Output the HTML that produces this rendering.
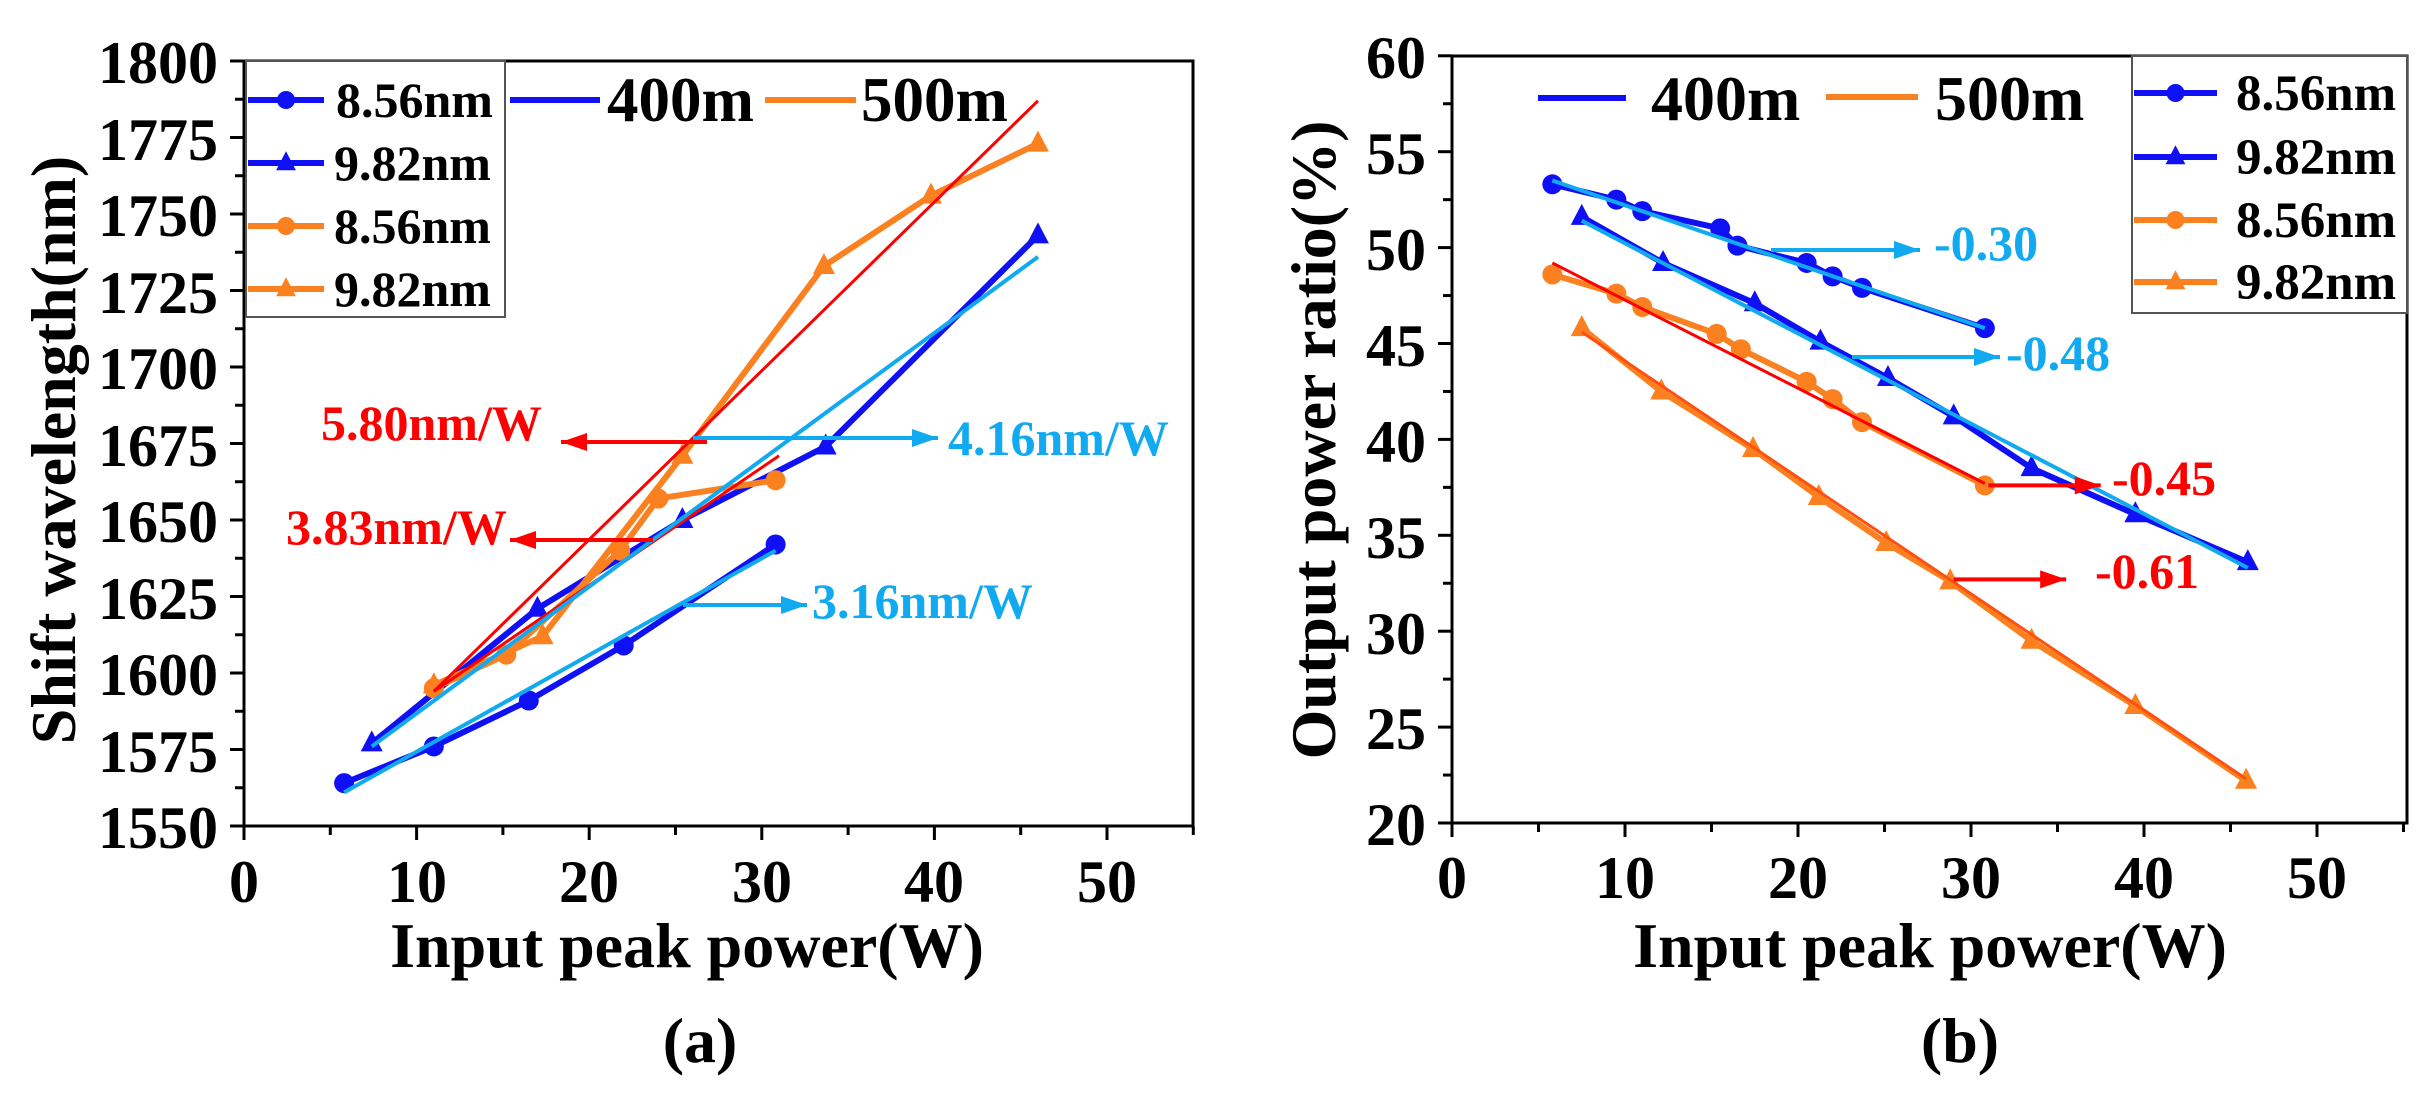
<!DOCTYPE html>
<html><head><meta charset="utf-8"><style>
html,body{margin:0;padding:0;background:#fff;}
svg text{font-family:"Liberation Serif",serif;font-weight:bold;}
</style></head><body>
<svg id="s" width="2436" height="1089" viewBox="0 0 2436 1089" xmlns="http://www.w3.org/2000/svg">
<rect width="2436" height="1089" fill="#fff"/>
<g id="plots"></g>
<rect x="244" y="61" width="949" height="765" fill="none" stroke="#000" stroke-width="3"/>
<rect x="1452" y="56" width="955" height="767" fill="none" stroke="#000" stroke-width="3"/>
<g id="ticks" stroke="#000" stroke-width="3"></g>
<g font-size="60" text-anchor="end" fill="#000">
<text x="218" y="83">1800</text><text x="218" y="160">1775</text><text x="218" y="236">1750</text>
<text x="218" y="313">1725</text><text x="218" y="389">1700</text><text x="218" y="466">1675</text>
<text x="218" y="542">1650</text><text x="218" y="619">1625</text><text x="218" y="695">1600</text>
<text x="218" y="772">1575</text><text x="218" y="848">1550</text>
</g>
<g font-size="60" text-anchor="end" fill="#000">
<text x="1426" y="78">60</text><text x="1426" y="174">55</text><text x="1426" y="270">50</text>
<text x="1426" y="366">45</text><text x="1426" y="462">40</text><text x="1426" y="558">35</text>
<text x="1426" y="654">30</text><text x="1426" y="749">25</text><text x="1426" y="845">20</text>
</g>
<g font-size="60" text-anchor="middle" fill="#000">
<text x="244" y="902">0</text><text x="417" y="902">10</text><text x="589" y="902">20</text>
<text x="762" y="902">30</text><text x="934" y="902">40</text><text x="1107" y="902">50</text>
<text x="1452" y="898">0</text><text x="1625" y="898">10</text><text x="1798" y="898">20</text>
<text x="1971" y="898">30</text><text x="2144" y="898">40</text><text x="2317" y="898">50</text>
</g>
<g font-size="64" text-anchor="middle" fill="#000">
<text x="687" y="967">Input peak power(W)</text>
<text x="1930" y="967">Input  peak power(W)</text>
<text x="700" y="1062">(a)</text>
<text x="1960" y="1062">(b)</text>
<text transform="translate(75,450) rotate(-90)">Shift wavelength(nm)</text>
<text transform="translate(1335,440) rotate(-90)">Output power ratio(%)</text>
</g>
<rect x="246" y="61" width="259" height="256" fill="#fff" stroke="#555" stroke-width="2"/>
<rect x="2132" y="56" width="275" height="257" fill="#fff" stroke="#555" stroke-width="2"/>
<g id="leg"></g>
<g font-size="50" fill="#000">
<text x="336" y="117">8.56nm</text><text x="334" y="180">9.82nm</text>
<text x="334" y="243">8.56nm</text><text x="334" y="306">9.82nm</text>
</g>
<g font-size="63" fill="#000"><text x="607" y="121">400m</text><text x="861" y="121">500m</text></g>
<g font-size="51" fill="#000">
<text x="2236" y="110">8.56nm</text><text x="2236" y="174">9.82nm</text>
<text x="2236" y="237">8.56nm</text><text x="2236" y="299">9.82nm</text>
</g>
<g font-size="64" fill="#000"><text x="1651" y="120">400m</text><text x="1935" y="120">500m</text></g>
<g font-size="50">
<text x="321" y="440" fill="#ff0000">5.80nm/W</text>
<text x="286" y="544" fill="#ff0000">3.83nm/W</text>
<text x="948" y="455" fill="#11aaf0">4.16nm/W</text>
<text x="812" y="618" fill="#11aaf0">3.16nm/W</text>
<text x="1934" y="260" fill="#11aaf0">-0.30</text>
<text x="2006" y="370" fill="#11aaf0">-0.48</text>
<text x="2112" y="495" fill="#ff0000">-0.45</text>
<text x="2095" y="588" fill="#ff0000">-0.61</text>
</g>
</svg>
<script>
var NS="http://www.w3.org/2000/svg";
var P=document.getElementById("plots"),T=document.getElementById("ticks"),L=document.getElementById("leg");
function el(p,n,a){var e=document.createElementNS(NS,n);for(var k in a)e.setAttribute(k,a[k]);p.appendChild(e);return e;}
var BL="#1010f5",OR="#fb8020",RD="#ff0000",CY="#11aaf0";
function LX(v){return 244+v*17.26;} function LY(v){return 826-(v-1550)*3.06;}
function RX(v){return 1452+v*17.3;} function RY(v){return 823-(v-20)*19.18;}
function line(g,pts,fx,fy,c,w){el(g,"polyline",{points:pts.map(function(p){return fx(p[0])+","+fy(p[1]);}).join(" "),fill:"none",stroke:c,"stroke-width":w,"stroke-linejoin":"round"});}
function mk(g,x,y,t,c,s){if(t=="c")el(g,"circle",{cx:x,cy:y,r:s,fill:c});else el(g,"polygon",{points:x+","+(y-s*1.3)+" "+(x-s*1.1)+","+(y+s*0.8)+" "+(x+s*1.1)+","+(y+s*0.8),fill:c});}
function series(pts,fx,fy,c,t){line(P,pts,fx,fy,c,6);pts.forEach(function(p){mk(P,fx(p[0]),fy(p[1]),t,c,10);});}
function arrow(x1,x2,y,c){el(P,"line",{x1:x1,y1:y,x2:x2,y2:y,stroke:c,"stroke-width":4});var d=x2>x1?1:-1;el(P,"polygon",{points:x2+","+y+" "+(x2-d*26)+","+(y-9)+" "+(x2-d*26)+","+(y+9),fill:c});}
series([[5.8,1564],[11,1576],[16.5,1591],[22,1609],[30.8,1642]],LX,LY,BL,"c");
series([[7.4,1577],[17,1621],[25.4,1650],[33.7,1674],[46,1743]],LX,LY,BL,"t");
series([[11,1595],[15.2,1606],[21.8,1640],[24,1657],[30.8,1663]],LX,LY,OR,"c");
series([[11,1596],[17.3,1612],[25.4,1671],[33.6,1733],[39.8,1756],[46,1773]],LX,LY,OR,"t");
line(P,[[11,1594],[46,1787]],LX,LY,RD,3);
line(P,[[11,1594],[31,1671]],LX,LY,RD,3);
line(P,[[7.4,1576],[46,1736]],LX,LY,CY,4);
line(P,[[5.8,1561],[30.8,1640]],LX,LY,CY,4);
arrow(707,561,442,RD);arrow(653,510,540,RD);arrow(693,938,438,CY);arrow(683,807,605,CY);
series([[5.8,53.3],[9.5,52.5],[11,51.9],[15.5,51],[16.5,50.1],[20.5,49.2],[22,48.5],[23.7,47.9],[30.8,45.8]],RX,RY,BL,"c");
series([[7.5,51.6],[12.2,49.2],[17.5,47.1],[21.3,45.1],[25.2,43.2],[29,41.2],[33.5,38.5],[39.5,36.1],[46,33.6]],RX,RY,BL,"t");
series([[5.8,48.6],[9.5,47.6],[11,46.9],[15.3,45.5],[16.7,44.7],[20.5,43],[22,42.1],[23.7,40.9],[30.8,37.6]],RX,RY,OR,"c");
series([[7.5,45.8],[12.1,42.5],[17.4,39.5],[21.2,37],[25.1,34.6],[28.8,32.6],[33.5,29.5],[39.5,26.1],[45.9,22.2]],RX,RY,OR,"t");
line(P,[[5.8,53.5],[30.8,45.8]],RX,RY,CY,4);
line(P,[[7.5,51.4],[46,33.3]],RX,RY,CY,4);
line(P,[[5.8,49.2],[30.8,37.7]],RX,RY,RD,3);
line(P,[[7.5,45.6],[45.9,22.3]],RX,RY,"#ff5010",3);
arrow(1771,1920,250,CY);arrow(1852,2000,357,CY);arrow(RX(31),RX(37.5),RY(37.6),RD);arrow(RX(29),RX(35.5),RY(32.7),RD);
for(var v=1550;v<=1800;v+=12.5){var y=LY(v),maj=(v%25==0);el(T,"line",{x1:244-(maj?14:9),y1:y,x2:244,y2:y});}
for(var v=20;v<=60;v+=2.5){var y=RY(v),maj=(v%5==0);el(T,"line",{x1:1452-(maj?14:9),y1:y,x2:1452,y2:y});}
for(var v=0;v<=55;v+=5){var maj=(v%10==0);el(T,"line",{x1:LX(v),y1:826,x2:LX(v),y2:826+(maj?14:9)});el(T,"line",{x1:RX(v),y1:823,x2:RX(v),y2:823+(maj?14:9)});}
function lg(x1,x2,y,c,t){el(L,"line",{x1:x1,y1:y,x2:x2,y2:y,stroke:c,"stroke-width":6});if(t)mk(L,(x1+x2)/2,y,t,c,9);}
lg(248,324,100,BL,"c");lg(248,324,163,BL,"t");lg(248,324,226,OR,"c");lg(248,324,289,OR,"t");
lg(510,600,100,BL);lg(765,856,100,OR);
lg(2134,2217,93,BL,"c");lg(2134,2217,157,BL,"t");lg(2134,2217,220,OR,"c");lg(2134,2217,282,OR,"t");
lg(1538,1626,98,BL);lg(1826,1918,97,OR);
</script>
</body></html>
